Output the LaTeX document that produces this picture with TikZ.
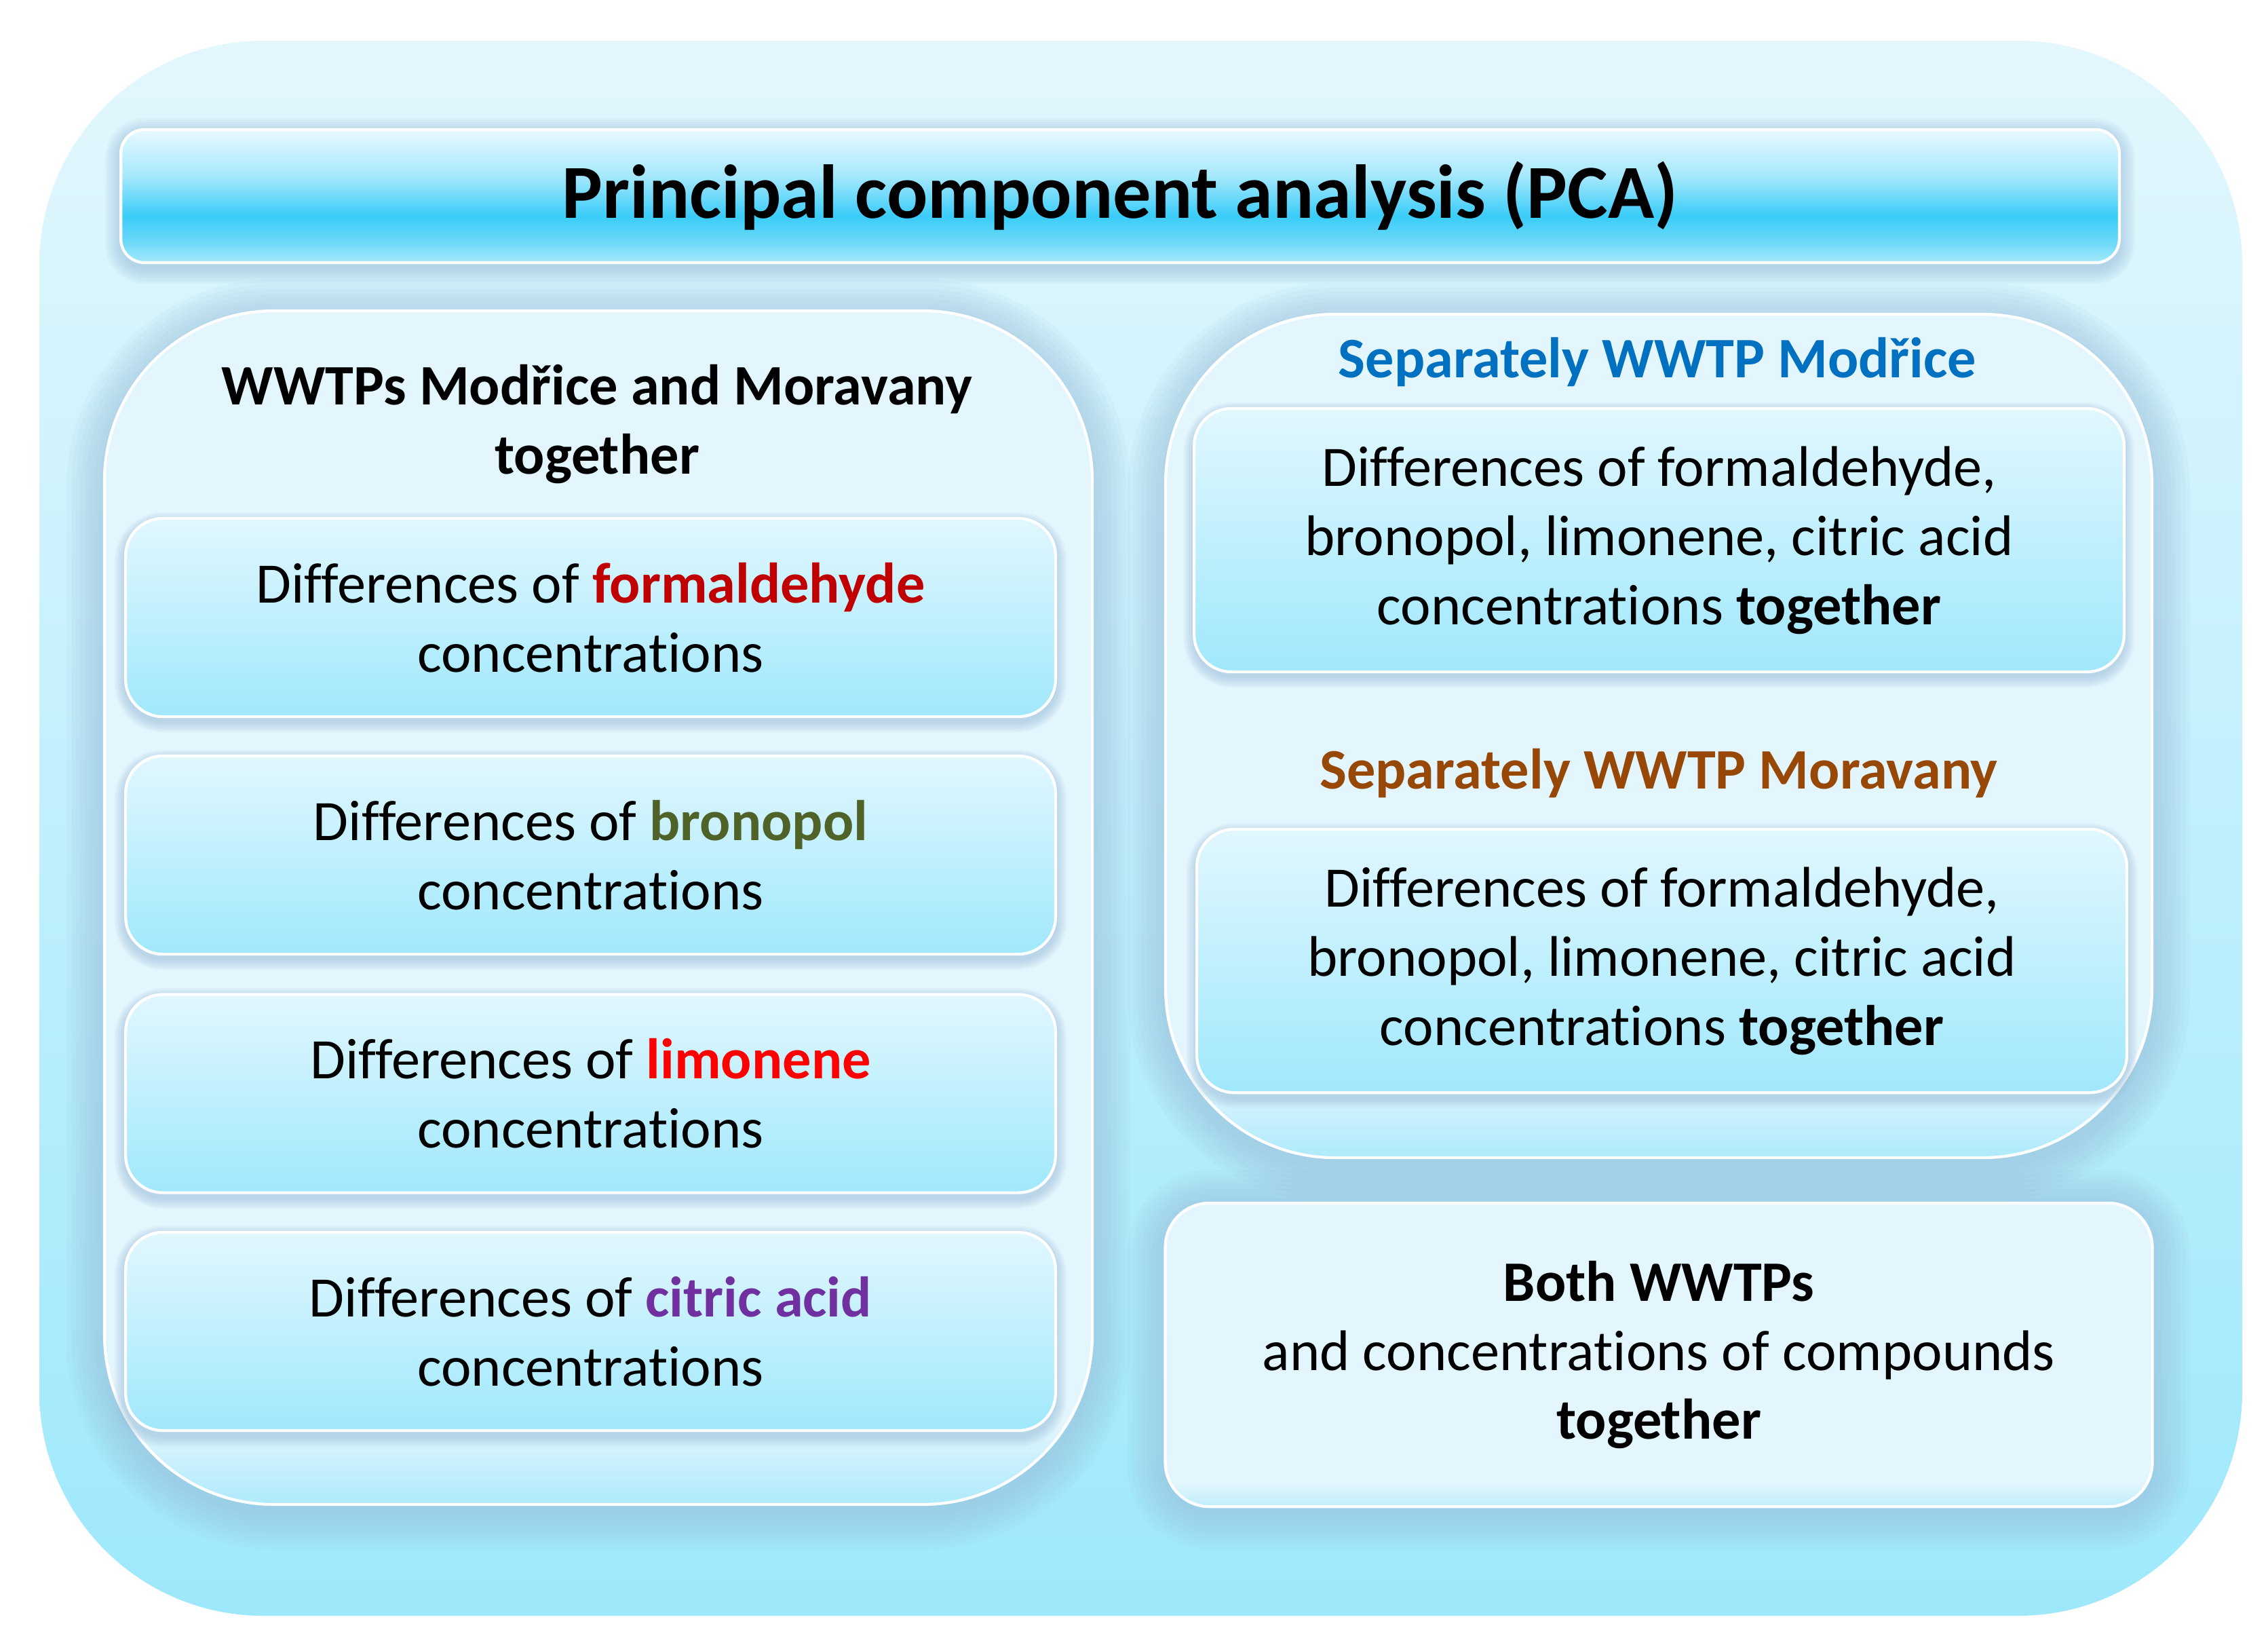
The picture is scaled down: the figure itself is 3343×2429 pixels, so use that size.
\documentclass[tikz,border=0pt]{standalone}
\usepackage{fontspec}
\setmainfont{Carlito}[Ligatures={NoCommon,NoRare,NoContextual}]
\definecolor{outtop}{HTML}{E3F7FD}
\definecolor{outbot}{HTML}{9EE8FC}
\definecolor{ctop}{HTML}{E4F6FD}
\definecolor{cbot}{HTML}{AEEAFC}
\definecolor{cardtop}{HTML}{E1F7FE}
\definecolor{cardbot}{HTML}{A0E8FC}
\definecolor{haloc}{HTML}{98BCD9}
\definecolor{tb0}{HTML}{E8F9FE}
\definecolor{tb1}{HTML}{A5E8FC}
\definecolor{tb2}{HTML}{3ACCF9}
\definecolor{tb3}{HTML}{6ED9F8}
\definecolor{tb4}{HTML}{A5E9FB}
\definecolor{cform}{HTML}{C00000}
\definecolor{cbron}{HTML}{4F6228}
\definecolor{climo}{HTML}{FF0000}
\definecolor{ccitr}{HTML}{7030A0}
\definecolor{cmod}{HTML}{0070C0}
\definecolor{cmor}{HTML}{974706}
\pgfdeclareverticalshading{titleshade}{100bp}{color(0bp)=(tb4); color(25bp)=(tb4); color(32.5bp)=(tb3); color(42.5bp)=(tb2); color(57.5bp)=(tb1); color(75bp)=(tb0); color(100bp)=(tb0)}
\pgfdeclareverticalshading{leftshade}{100bp}{color(0bp)=(cbot); color(25bp)=(cbot); color(28.5bp)=(ctop); color(100bp)=(ctop)}
\pgfdeclareverticalshading{rightshade}{100bp}{color(0bp)=(cbot); color(25bp)=(cbot); color(30bp)=(ctop); color(100bp)=(ctop)}
\pgfdeclareverticalshading{boxshade}{100bp}{color(0bp)=(cbot!70!ctop); color(25bp)=(cbot!70!ctop); color(29bp)=(ctop); color(100bp)=(ctop)}
\newcommand\halo[6]{% x1 y1 x2 y2 radius(px) step(px)
  \foreach \k in {1,...,8}{%
    \pgfmathsetmacro\rr{(#5+\k*#6)*0.01}%
    \fill[haloc, opacity=0.085, rounded corners=\rr cm] (#1-\k*#6, #2-\k*#6+10) rectangle (#3+\k*#6, #4+\k*#6+10);
  }}
\tikzset{
  body/.style={align=center, font=\fontsize{24}{29}\selectfont},
  card/.style={body, rounded corners=0.55cm, top color=cardtop, bottom color=cardbot,
    draw=white, line width=1.2pt, minimum width=13.7cm, minimum height=2.92cm, inner sep=0pt},
  rcard/.style={card, minimum height=3.88cm},
  head/.style={align=center, font=\fontsize{24}{29}\selectfont\bfseries},
}
\begin{document}
\begin{tikzpicture}[x=0.01cm, y=-0.01cm]
\useasboundingbox (0,0) rectangle (3343,2429);
% outer panel
\shade[rounded corners=3.3cm, top color=outtop, bottom color=outbot] (58,60) rectangle (3305,2381);
% halos
\halo{179}{188}{3123}{384}{35}{3}
\halo{154}{458}{1610}{2217}{250}{7}
\halo{1718}{463}{3172}{1706}{250}{7}
\halo{1718}{1770}{3172}{2217}{65}{7}
% title bar
\node[draw=white, line width=1.2pt, rounded corners=0.35cm, shading=titleshade,
  minimum width=29.44cm, minimum height=1.96cm, font=\fontsize{32}{38}\selectfont\bfseries]
  (title) at (1651,289) {Principal component analysis (PCA)};
% left container
\path[draw=white, line width=1.2pt, rounded corners=2.5cm, shading=leftshade] (154,458) rectangle (1610,2217);
\node[head] (lhead) at (880,625) {WWTPs Modřice and Moravany\\together};
\foreach \ya/\yb in {761/1053,1111/1403,1462/1755,1812/2106}{
  \halo{185}{\ya}{1556}{\yb}{55}{2}
}
\node[card] (c1) at (870.5,910) {Differences of \textcolor{cform}{\bfseries formaldehyde}\\concentrations};
\node[card] (c2) at (870.5,1260) {Differences of \textcolor{cbron}{\bfseries bronopol}\\concentrations};
\node[card] (c3) at (870.5,1611.5) {Differences of \textcolor{climo}{\bfseries limonene}\\concentrations};
\node[card] (c4) at (870.5,1962) {Differences of \textcolor{ccitr}{\bfseries citric acid}\\concentrations};
% right container
\path[draw=white, line width=1.2pt, rounded corners=2.5cm, shading=rightshade] (1718,463) rectangle (3172,1706);
\node[head, text=cmod] (rhead1) at (2443,534) {Separately WWTP Modřice};
\halo{1761}{599}{3130}{987}{55}{2}
\node[rcard] (r1) at (2445.5,796) {Differences of formaldehyde,\\bronopol, limonene, citric acid\\concentrations \textbf{together}};
\node[head, text=cmor] (rhead2) at (2445,1139) {Separately WWTP Moravany};
\halo{1765}{1219}{3134}{1607}{55}{2}
\node[rcard] (r2) at (2449.5,1416) {Differences of formaldehyde,\\bronopol, limonene, citric acid\\concentrations \textbf{together}};
% bottom right box
\node[body, draw=white, line width=1.2pt, rounded corners=0.65cm, shading=boxshade,
  minimum width=14.54cm, minimum height=4.47cm] (both) at (2445,1996.5)
  {\textbf{Both WWTPs}\\and concentrations of compounds\\\textbf{together}};
\end{tikzpicture}
\end{document}
